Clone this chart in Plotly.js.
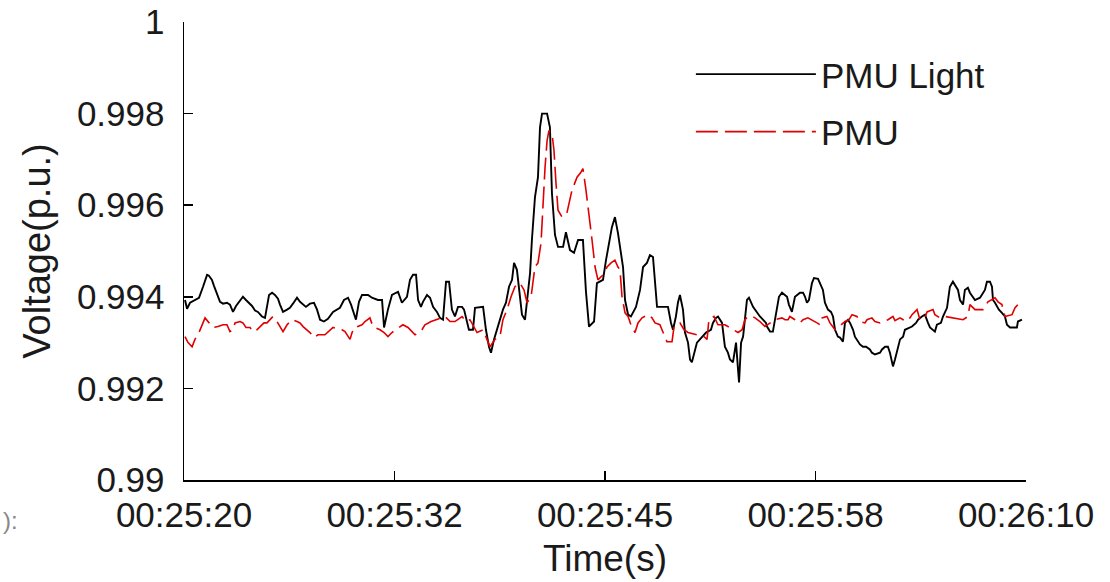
<!DOCTYPE html>
<html>
<head>
<meta charset="utf-8">
<script src="https://cdn.plot.ly/plotly-3.0.1.min.js"></script>
<style>html,body{margin:0;padding:0;background:#fff;}#chart{width:1110px;height:582px;}</style>
</head>
<body>
<div id="chart"></div>
<script>
// Time in seconds after 00:25:20
const lightTime = [0.06,0.18,0.36,0.65,0.89,1.13,1.25,1.37,1.48,1.66,1.78,1.90,2.02,2.14,2.32,2.55,2.73,2.91,3.09,3.33,3.50,3.68,3.86,4.04,4.22,4.39,4.63,4.81,5.05,5.23,5.40,5.58,5.70,5.88,6.12,6.29,6.47,6.71,6.89,7.07,7.24,7.48,7.72,7.90,8.08,8.31,
8.55,8.85,9.26,9.50,9.74,9.92,10.04,10.21,10.39,10.57,10.93,11.16,11.52,11.76,11.88,12.11,12.35,12.71,12.94,13.24,13.42,13.60,13.78,13.90,14.07,14.19,14.43,14.61,14.79,15.02,15.20,15.38,15.56,15.74,15.91,16.09,16.27,16.51,16.63,16.80,16.92,17.16,
17.28,17.76,17.93,18.11,18.23,18.41,18.59,18.76,18.94,19.12,19.30,19.48,19.60,19.77,19.89,20.07,20.25,20.43,20.55,20.66,20.84,21.02,21.14,21.26,21.56,21.73,21.85,22.03,22.21,22.51,22.68,22.92,23.16,23.40,23.69,23.87,24.05,24.35,24.52,24.88,25.06,25.41,25.59,25.77,25.89,26.07,26.19,26.37,26.54,26.84,27.08,27.26,27.49,27.67,27.85,27.97,28.09,28.38,28.74,28.92,29.04,29.21,29.33,29.45,29.63,29.75,29.93,30.05,30.16,30.46,30.76,31.00,31.29,31.41,31.59,31.71,31.95,32.12,32.30,32.42,32.60,32.78,32.90,32.96,33.08,33.20,33.43,
33.55,33.79,34.03,34.20,34.38,34.56,34.62,34.80,34.97,35.09,35.21,35.33,35.51,35.69,35.81,35.92,36.10,36.28,36.40,36.58,36.76,36.88,36.99,37.11,37.29,37.41,37.65,37.77,37.94,38.06,38.24,38.42,38.54,38.66,38.83,38.95,39.13,39.25,39.43,39.55,39.73,39.84,40.02,40.14,40.32,40.50,40.73,40.85,41.03,41.33,41.45,41.63,41.80,41.92,42.10,
42.22,42.52,42.70,42.81,43.11,43.23,43.47,43.59,43.82,44.00,44.18,44.30,44.59,44.71,44.95,45.07,45.31,45.48,45.66,45.78,45.96,46.08,46.26,46.37,46.55,46.67,46.85,46.97,47.27,47.39,47.56,47.68,47.86,47.98,48.04,48.16,48.39,48.57,48.75,48.87,49.05,49.46,49.52,49.76];
const lightVoltage = [0.99393,0.99374,0.99387,0.99393,0.99398,0.99422,0.99437,0.99448,0.99446,0.99437,0.99424,0.99411,0.99400,0.99389,0.99385,0.99387,0.99383,0.99367,0.99380,0.99391,0.99400,0.99393,0.99387,0.99380,0.99370,0.99367,0.99357,0.99354,0.99404,0.99409,0.99404,0.99396,0.99383,0.99367,0.99372,0.99376,0.99385,0.99398,0.99389,0.99383,0.99378,0.99385,0.99387,0.99372,0.99350,0.99346,
0.99352,0.99367,0.99376,0.99393,0.99398,0.99383,0.99367,0.99350,0.99389,0.99404,0.99404,0.99398,0.99393,0.99393,0.99333,0.99372,0.99404,0.99411,0.99387,0.99400,0.99437,0.99448,0.99448,0.99393,0.99378,0.99389,0.99404,0.99398,0.99378,0.99367,0.99354,0.99350,0.99433,0.99433,0.99372,0.99357,0.99378,0.99378,0.99372,0.99343,0.99328,0.99328,
0.99376,0.99378,0.99328,0.99291,0.99278,0.99307,0.99328,0.99350,0.99372,0.99387,0.99422,0.99437,0.99474,0.99459,0.99422,0.99361,0.99350,0.99409,0.99452,0.99524,0.99617,0.99661,0.99770,0.99800,0.99800,0.99770,0.99626,0.99535,0.99509,0.99509,0.99541,0.99502,0.99496,0.99524,0.99524,0.99411,0.99335,0.99346,0.99430,0.99437,0.99480,0.99552,0.99574,0.99539,0.99509,0.99465,0.99393,0.99361,0.99357,0.99378,0.99415,0.99465,0.99474,0.99491,0.99487,0.99437,0.99378,0.99378,0.99378,0.99343,0.99328,0.99357,0.99387,0.99404,0.99372,0.99322,0.99300,0.99263,0.99257,0.99300,0.99313,0.99322,0.99328,0.99343,0.99354,0.99357,0.99343,0.99291,0.99278,0.99263,0.99257,0.99300,0.99241,0.99213,0.99300,0.99313,0.99393,
0.99398,0.99378,0.99365,0.99357,0.99350,0.99343,0.99335,0.99324,0.99324,0.99350,0.99372,0.99400,0.99409,0.99404,0.99400,0.99383,0.99367,0.99400,0.99404,0.99409,0.99409,0.99400,0.99387,0.99393,0.99430,0.99441,0.99439,0.99430,0.99415,0.99387,0.99372,0.99367,0.99357,0.99328,0.99313,0.99311,0.99302,0.99343,0.99350,0.99343,0.99328,0.99313,0.99302,0.99296,0.99291,0.99291,0.99285,0.99278,0.99274,0.99278,0.99285,0.99291,0.99291,0.99278,0.99248,
0.99263,0.99307,0.99313,0.99328,0.99333,0.99335,0.99343,0.99350,0.99357,0.99361,0.99343,0.99333,0.99324,0.99339,0.99343,0.99357,0.99376,0.99422,0.99433,0.99426,0.99415,0.99393,0.99383,0.99415,0.99420,0.99409,0.99400,0.99393,0.99398,0.99404,0.99415,0.99433,0.99433,0.99422,0.99393,0.99387,0.99372,0.99365,0.99357,0.99339,0.99333,0.99333,0.99346,0.99350];

const pmuTime = [0.06,0.24,0.48,0.65,0.89,1.07,1.25,1.72,2.02,2.32,2.55,2.73,2.91,3.03,3.33,3.50,3.68,3.92,4.10,4.33,4.51,4.75,4.93,5.28,5.46,5.70,5.88,6.12,6.41,6.71,6.89,7.07,7.30,7.48,7.72,7.96,
8.37,8.85,9.38,9.56,9.86,9.98,10.15,10.33,10.57,10.75,11.04,11.22,11.64,11.88,12.11,12.35,13.00,13.30,13.54,13.72,13.95,14.13,14.31,14.67,15.50,15.80,16.09,16.51,16.75,16.98,
17.40,17.76,17.99,18.17,18.47,18.76,18.94,19.18,19.42,19.65,19.95,20.19,20.37,20.61,20.84,21.02,21.20,21.32,21.44,21.56,21.67,21.85,21.97,22.09,22.21,22.45,22.74,23.04,23.34,23.57,23.69,23.87,24.05,24.23,24.41,24.58,24.88,25.12,25.36,25.59,25.77,
25.89,26.01,26.19,26.37,26.54,26.78,26.96,27.20,27.37,27.55,27.79,27.97,28.26,28.68,28.98,29.10,29.45,29.69,29.93,30.88,31.06,31.17,31.47,31.71,32.12,32.90,33.14,33.31,
33.49,33.73,33.91,34.09,34.20,34.50,35.09,35.51,35.69,35.87,35.98,36.28,36.58,36.76,37.05,37.59,37.77,37.89,38.18,38.36,38.66,39.25,39.49,39.67,39.96,40.14,40.44,40.56,40.85,41.03,41.33,41.80,42.10,
42.22,42.52,42.70,42.81,43.11,43.23,43.53,43.70,44.00,44.12,44.48,44.59,44.89,45.19,46.26,46.55,46.67,46.97,47.27,47.45,47.74,48.16,48.34,48.57,48.75,49.17,49.35,49.64,49.76];
const pmuVoltage = [0.99313,0.99300,0.99291,0.99307,0.99322,0.99339,0.99354,0.99333,0.99335,0.99339,0.99339,0.99324,0.99328,0.99343,0.99346,0.99343,0.99333,0.99333,0.99324,0.99328,0.99335,0.99343,0.99343,0.99357,0.99350,0.99335,0.99324,0.99339,0.99350,0.99346,0.99343,0.99335,0.99328,0.99322,0.99311,0.99317,
0.99317,0.99333,0.99328,0.99324,0.99307,0.99322,0.99335,0.99335,0.99339,0.99346,0.99354,0.99335,0.99328,0.99322,0.99313,0.99322,0.99339,0.99333,0.99324,0.99317,0.99322,0.99328,0.99339,0.99346,0.99357,0.99346,0.99346,0.99357,0.99346,0.99350,
0.99322,0.99328,0.99307,0.99291,0.99307,0.99313,0.99350,0.99372,0.99400,0.99422,0.99430,0.99415,0.99387,0.99400,0.99465,0.99474,0.99517,0.99611,0.99683,0.99741,0.99763,0.99757,0.99720,0.99648,0.99589,0.99574,0.99583,0.99633,0.99661,0.99672,0.99680,0.99633,0.99583,0.99524,0.99465,0.99437,0.99448,0.99465,0.99474,0.99480,0.99465,
0.99459,0.99400,0.99365,0.99357,0.99339,0.99322,0.99343,0.99354,0.99357,0.99361,0.99354,0.99343,0.99339,0.99302,0.99302,0.99335,0.99343,0.99328,0.99322,0.99313,0.99307,0.99350,0.99357,0.99339,0.99339,0.99322,0.99328,0.99350,
0.99357,0.99357,0.99354,0.99350,0.99346,0.99335,0.99350,0.99354,0.99350,0.99350,0.99357,0.99350,0.99343,0.99350,0.99354,0.99343,0.99339,0.99354,0.99357,0.99343,0.99328,0.99346,0.99350,0.99361,0.99357,0.99346,0.99343,0.99350,0.99354,0.99346,0.99343,0.99350,0.99357,
0.99348,0.99354,0.99350,0.99346,0.99354,0.99361,0.99372,0.99350,0.99354,0.99367,0.99372,0.99361,0.99354,0.99357,0.99350,0.99357,0.99383,0.99372,0.99372,0.99372,0.99389,0.99398,0.99389,0.99383,0.99357,0.99361,0.99376,0.99387,0.99393];

const timeTickVals = [0, 12.5, 25, 37.5, 50];
const timeTickText = ['00:25:20', '00:25:32', '00:25:45', '00:25:58', '00:26:10'];
const voltTickVals = [0.99, 0.992, 0.994, 0.996, 0.998, 1];
const voltTickText = ['0.99', '0.992', '0.994', '0.996', '0.998', '1'];
const seriesNames = ['PMU Light', 'PMU'];
const cropLabel = '):';

const FONT = 'Liberation Sans, Arial, sans-serif';
const TXT = '#1a1a1a';

const traces = [
  {x: lightTime, y: lightVoltage, type: 'scatter', mode: 'lines', name: seriesNames[0], legendgroup: 'a',
   line: {color: '#000000', width: 1.9}},
  {x: pmuTime, y: pmuVoltage, type: 'scatter', mode: 'lines', name: seriesNames[1], legendgroup: 'b',
   line: {color: '#e00000', width: 1.6, dash: '22px,7px'}}
];

const layout = {
  width: 1110, height: 582,
  margin: {l: 184, r: 84, t: 22, b: 102, pad: 0},
  paper_bgcolor: '#ffffff', plot_bgcolor: '#ffffff',
  font: {family: FONT, size: 35, color: TXT},
  showlegend: true,
  legend: {x: 0.602, y: 0.95, xanchor: 'left', yanchor: 'top', bgcolor: 'rgba(0,0,0,0)',
    font: {family: FONT, size: 35, color: TXT}, itemwidth: 120, tracegroupgap: 9, traceorder: 'grouped'},
  annotations: [{text: cropLabel, xref: 'paper', yref: 'paper', x: -0.2175, y: -0.088, xanchor: 'left', yanchor: 'middle',
    showarrow: false, font: {family: FONT, size: 24, color: '#888'}}],
  xaxis: {range: [0, 50], tickvals: timeTickVals, ticktext: timeTickText, ticks: 'inside', ticklen: 9,
    tickcolor: '#000', tickwidth: 1.5, showline: true, linecolor: '#000', linewidth: 1.5, mirror: false,
    showgrid: false, zeroline: false, ticklabelstandoff: 3,
    tickfont: {family: FONT, size: 35, color: TXT},
    title: {text: 'Time(s)', font: {family: FONT, size: 37, color: TXT}, standoff: 12}},
  yaxis: {range: [0.99, 1], tickvals: voltTickVals, ticktext: voltTickText, ticks: 'inside', ticklen: 9,
    tickcolor: '#000', tickwidth: 1.5, showline: true, linecolor: '#000', linewidth: 1.5, mirror: false,
    showgrid: false, zeroline: false, ticklabelstandoff: 11,
    tickfont: {family: FONT, size: 35, color: TXT},
    title: {text: 'Voltage(p.u.)', font: {family: FONT, size: 38, color: TXT}, standoff: 14}}
};

Plotly.newPlot('chart', traces, layout, {displayModeBar: false, staticPlot: true});
</script>
</body>
</html>
